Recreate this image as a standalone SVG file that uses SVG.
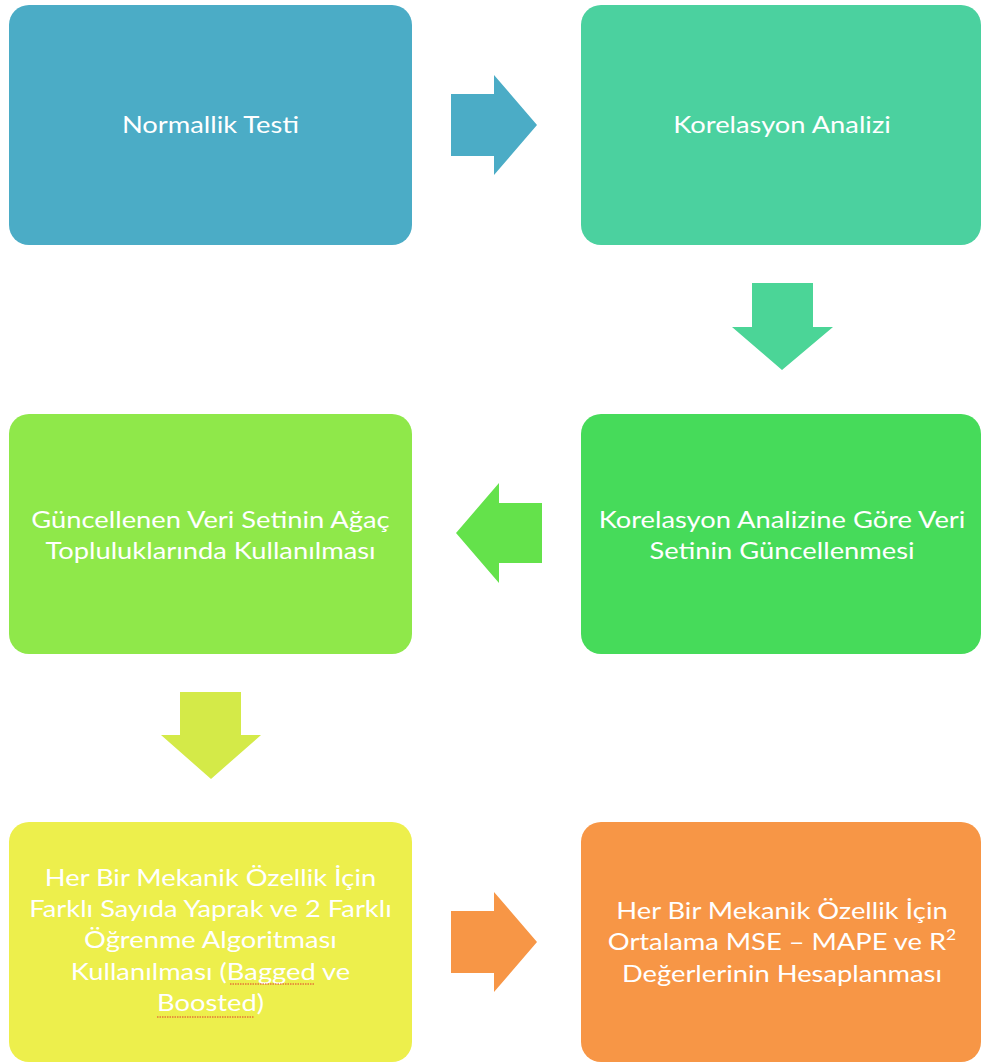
<svg xmlns="http://www.w3.org/2000/svg" width="981" height="1063" viewBox="0 0 981 1063">
  <style>
    .box { stroke: none; }
    .lbl { font-family: Lato, "Liberation Sans", sans-serif; font-size: 23.5px; fill: #ffffff; text-anchor: middle; }
    .spell { fill: none; stroke: #e0392b; stroke-width: 1; stroke-dasharray: 1.5 1; }
  </style>
  <rect width="981" height="1063" fill="#ffffff"/>

  <!-- connectors: block arrows between steps -->
  <g id="connectors">
    <polygon points="451,94 494,94 494,75 537,125 494,175 494,156 451,156" fill="#4bacc6"/>
    <polygon points="752,283 813,283 813,327 833,327 782,370 732,327 752,327" fill="#4bd597"/>
    <polygon points="542,503 499,503 499,483 456,533 499,583 499,563 542,563" fill="#64e24b"/>
    <polygon points="180,692 241,692 241,735 261,735 211,779 161,735 180,735" fill="#d4ea48"/>
    <polygon points="451,911 494,911 494,892 537,942 494,992 494,973 451,973" fill="#f79646"/>
  </g>

  <!-- labels are set in a slightly widened face: scale(1.163 1) around each column centre -->
  <g id="normallik">
    <rect class="box" x="9" y="5" width="403" height="240" rx="20" fill="#4bacc6"/>
    <g transform="translate(210.5 0) scale(1.163 1)">
      <text class="lbl" x="0" y="133">Normallik Testi</text>
    </g>
  </g>

  <g id="korelasyon">
    <rect class="box" x="581" y="5" width="400" height="240" rx="20" fill="#4bd19f"/>
    <g transform="translate(782 0) scale(1.163 1)">
      <text class="lbl" x="0" y="133">Korelasyon Analizi</text>
    </g>
  </g>

  <g id="guncelleme">
    <rect class="box" x="581" y="414" width="400" height="240" rx="20" fill="#46db5a"/>
    <g transform="translate(782 0) scale(1.163 1)">
      <text class="lbl" x="0" y="528">Korelasyon Analizine Göre Veri</text>
      <text class="lbl" x="0" y="559">Setinin Güncellenmesi</text>
    </g>
  </g>

  <g id="agac">
    <rect class="box" x="9" y="414" width="403" height="240" rx="20" fill="#8fe84a"/>
    <g transform="translate(210.5 0) scale(1.163 1)">
      <text class="lbl" x="0" y="528">Güncellenen Veri Setinin Ağaç</text>
      <text class="lbl" x="0" y="559">Topluluklarında Kullanılması</text>
    </g>
  </g>

  <g id="yaprak">
    <rect class="box" x="9" y="822" width="403" height="240" rx="20" fill="#edef4c"/>
    <g transform="translate(210.5 0) scale(1.163 1)">
      <text class="lbl" x="0" y="886">Her Bir Mekanik Özellik İçin</text>
      <text class="lbl" x="0" y="917">Farklı Sayıda Yaprak ve 2 Farklı</text>
      <text class="lbl" x="0" y="948">Öğrenme Algoritması</text>
      <text class="lbl" x="0" y="980">Kullanılması (Bagged ve</text>
      <text class="lbl" x="0" y="1011">Boosted)</text>
    </g>
    <path class="spell" d="M230,984 H315 M157,1017 H254"/>
  </g>

  <g id="hesaplama">
    <rect class="box" x="581" y="822" width="400" height="240" rx="20" fill="#f79646"/>
    <g transform="translate(782 0) scale(1.163 1)">
      <text class="lbl" x="0" y="919">Her Bir Mekanik Özellik İçin</text>
      <text class="lbl" x="0" y="950">Ortalama MSE – MAPE ve R<tspan font-size="15" dy="-10">2</tspan></text>
      <text class="lbl" x="0" y="982">Değerlerinin Hesaplanması</text>
    </g>
  </g>
</svg>
